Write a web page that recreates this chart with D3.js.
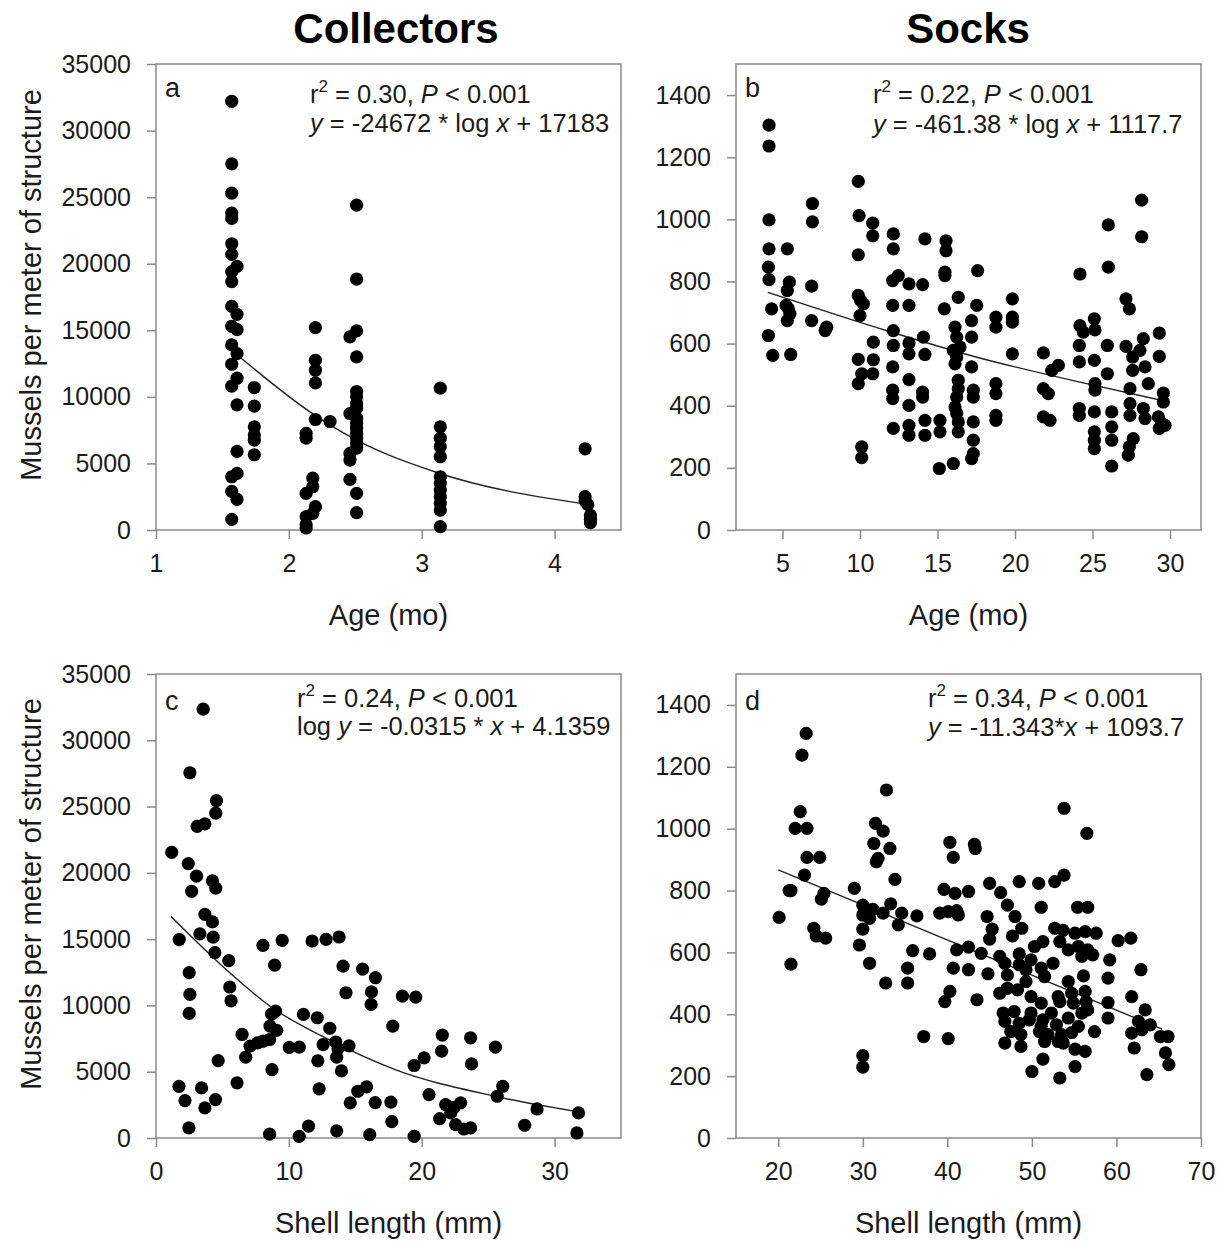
<!DOCTYPE html>
<html>
<head>
<meta charset="utf-8">
<script src="https://cdn.jsdelivr.net/npm/d3@7"></script>
<style>
  body { margin: 0; background: #fff; }
  text { font-family: "Liberation Sans", Arial, sans-serif; }
</style>
</head>
<body>
<svg id="fig" width="1224" height="1245"></svg>
<script>
////////////////////////////
//  data
////////////////////////////
// panel a: collectors, age (mo) vs mussels per meter
var collectorsAge = [
  [1.57,32200],[1.57,27500],[1.57,25300],[1.57,23800],[1.57,23400],[1.57,21500],[1.57,20700],[1.61,19800],
  [1.57,19400],[1.57,18650],[1.57,16800],[1.61,16200],[1.57,15300],[1.61,15050],[1.57,13900],[1.61,13250],
  [1.57,12450],[1.61,11400],[1.57,10800],[1.61,9400],[1.61,5900],[1.61,4250],[1.57,4000],[1.57,2900],
  [1.61,2300],[1.57,800],
  [1.74,10700],[1.74,9300],[1.74,7750],[1.74,7150],[1.74,6750],[1.74,5650],
  [2.20,15200],[2.20,12750],[2.20,12000],[2.20,11050],[2.20,8300],[2.31,8150],[2.13,7250],[2.13,6900],
  [2.18,3900],[2.18,3250],[2.13,2750],[2.20,1750],[2.18,1250],[2.13,1000],[2.13,400],[2.13,150],
  [2.51,24400],[2.51,18850],[2.51,14950],[2.46,14500],[2.51,13000],[2.51,10400],[2.51,10000],[2.51,9500],
  [2.51,9150],[2.46,8750],[2.51,8400],[2.51,8000],[2.51,7650],[2.51,7250],[2.51,6900],[2.51,6500],
  [2.51,6150],[2.46,5750],[2.46,5250],[2.46,3800],[2.51,2750],[2.51,1300],
  [3.14,10650],[3.14,7750],[3.14,6900],[3.14,6250],[3.14,5500],[3.14,4000],[3.14,3500],[3.14,3000],
  [3.14,2500],[3.14,2000],[3.14,1500],[3.14,250],
  [4.23,6100],[4.23,2500],[4.23,2200],[4.25,1900],[4.27,1100],[4.27,800],[4.27,550]
];
var fitA = [[1.63,13000],[2.17,8800],[2.5,6800],[3.12,4300],[4.2,2000]];

// panel b: socks, age (mo) vs mussels per meter
var socksAge = [
  [4.13,1303],[4.13,1236],[4.13,998],[4.13,905],[4.09,846],[4.13,806],[4.30,712],[4.09,626],[4.37,562],
  [5.31,905],[5.44,798],[5.31,771],[5.23,723],[5.38,712],[5.48,696],[5.31,674],[5.53,565],
  [6.93,1051],[6.93,992],[6.88,785],[6.88,674],
  [7.85,653],[7.75,642],
  [9.89,1122],[9.94,1012],[9.89,886],[9.89,755],[10.04,739],[10.22,728],[10.0,690],[9.89,549],[9.89,471],
  [10.11,503],[10.11,268],[10.11,233],
  [10.82,988],[10.82,947],[10.86,605],[10.86,548],[10.82,503],
  [12.15,953],[12.15,905],[12.47,819],[12.11,803],[12.11,723],[12.15,642],[12.15,594],[12.11,525],
  [12.11,450],[12.11,423],[12.15,327],
  [13.16,792],[13.16,723],[13.16,602],[13.16,567],[13.16,484],[13.16,401],[13.16,337],[13.16,305],
  [14.19,937],[14.04,790],[14.09,621],[14.19,565],[14.04,444],[14.04,428],[14.19,353],[14.19,305],
  [15.55,931],[15.55,899],[15.48,830],[15.48,819],[15.44,712],[15.16,353],[15.16,316],[15.12,198],
  [16.34,749],[16.13,653],[16.24,621],[16.02,578],[16.24,557],[16.45,589],[16.13,535],[16.34,482],
  [16.34,455],[16.24,428],[16.13,396],[16.24,375],[16.34,348],[16.34,316],[16.02,214],
  [17.59,835],[17.53,723],[17.2,674],[17.2,621],[17.2,525],[17.31,450],[17.31,428],[17.31,348],
  [17.31,289],[17.31,246],[17.2,230],
  [18.77,685],[18.77,653],[18.77,471],[18.77,439],[18.77,369],[18.77,353],
  [19.83,744],[19.83,685],[19.83,669],[19.83,567],
  [21.83,570],[21.83,455],[22.15,439],[21.83,364],[22.26,353],
  [22.37,514],[22.8,530],
  [24.19,824],[24.19,658],[24.41,637],[24.15,594],[24.15,541],[24.15,391],[24.15,369],
  [25.12,680],[25.16,644],[25.12,546],[25.16,471],[25.16,450],[25.12,380],[25.12,316],[25.12,289],[25.12,262],
  [26.02,982],[26.02,846],[25.96,594],[25.96,503],[26.24,380],[26.24,332],[26.24,289],[26.24,206],
  [27.16,744],[27.38,712],[27.16,591],[27.59,557],[27.59,514],[27.42,455],[27.42,407],[27.42,369],
  [27.63,294],[27.38,268],[27.31,241],
  [28.17,1062],[28.17,944],[28.28,616],[28.06,578],[28.39,525],[28.6,471],[28.28,391],[28.39,359],
  [29.31,634],[29.31,559],[29.57,441],[29.57,412],[29.25,364],[29.46,343],[29.68,337],[29.31,327]
];
var fitB = [[4.05,765],[11.89,639],[17.48,557],[24.63,471],[29.14,421],[29.6,416]];

// panel c: collectors, shell length (mm) vs mussels per meter
var collectorsLength = [
  [3.55,32350],[2.55,27550],[4.55,25450],[4.5,24500],[3.1,23500],[3.68,23700],[1.18,21550],[2.43,20700],
  [3.05,19750],[4.25,19400],[4.5,18850],[2.68,18600],[3.68,16870],[4.25,16300],[3.3,15400],[4.3,15150],
  [1.75,14970],[4.43,13980],[5.48,13380],[2.5,12470],[2.55,10830],[2.5,9400],[5.55,11390],[5.65,10350],
  [4.68,5840],[1.73,3900],[3.43,3780],[2.18,2820],[4.48,2900],[3.68,2270],[2.48,760],
  [8.05,14530],[9.5,14910],[8.93,13040],[6.1,4160],[6.48,7810],[6.75,6100],[7.08,6930],[7.65,7180],
  [8.05,7300],[8.7,9350],[9.0,9570],[8.58,8440],[9.08,8120],[8.55,7430],[8.73,5160],[10.03,6830],
  [10.78,6850],[11.1,9320],[12.14,9070],[13.08,8280],[12.58,7050],[13.53,7240],[13.7,6750],[13.6,6100],
  [14.53,6950],[12.18,5820],[13.96,5060],[12.28,3710],[8.55,290],[10.78,120],[11.48,900],[13.6,540],
  [11.75,14860],[12.8,14985],[13.78,15160],[14.08,12970],[14.3,10955],[15.55,12740],[16.52,12090],
  [16.22,11020],[16.19,10075],[17.82,8440],[18.55,10700],[19.55,10630],[14.62,2650],[15.19,3527],
  [15.85,3860],[16.5,2670],[17.68,2710],[17.75,1235],[19.43,5470],[20.18,6050],[16.09,250],[19.43,130],
  [20.55,3275],[21.55,7760],[21.5,6550],[23.68,7560],[23.75,5590],[25.55,6850],[26.1,3905],[25.68,3150],
  [21.8,2520],[22.43,2320],[22.93,2650],[22.18,1890],[21.35,1460],[22.55,1010],[23.18,680],[23.68,760],
  [27.75,960],[28.68,2190],[31.8,1890],[31.68,380]
];
var fitC = [[1.13,16700],[5.0,12960],[8.75,9820],[12.5,7680],[18.0,5160],[25.55,3140],[31.55,2010]];

// panel d: socks, shell length (mm) vs mussels per meter
var socksLength = [
  [23.3,1308],[22.8,1238],[22.6,1055],[22.0,1001],[23.4,1001],[31.5,1017],[32.4,992],[32.8,1125],
  [33.2,936],[31.3,952],[40.3,956],[43.2,949],[43.3,936],[53.8,1066],[56.5,985],
  [23.4,907],[24.9,907],[23.1,850],[21.3,800],[21.5,800],[20.1,713],[21.5,562],[25.4,791],[25.1,772],
  [24.2,678],[24.5,653],[25.6,646],[31.8,904],[31.6,893],[33.8,836],[29.0,807],[30.0,753],[30.6,737],
  [31.2,739],[30.0,721],[30.8,710],[30.0,675],[29.6,624],[30.8,565],[32.4,727],[33.3,757],[34.6,727],
  [34.2,689],[36.4,718],[35.9,606],[37.9,595],[35.3,549],[35.3,501],[32.7,501],[30.0,266],[30.0,229],
  [37.2,328],[40.1,321],[39.6,804],[40.9,791],[42.5,797],[40.7,907],[39.1,727],[40.1,732],[41.1,735],
  [41.3,721],[41.1,608],[42.5,617],[40.7,549],[42.5,544],[40.3,474],[39.7,441],[43.5,447],
  [45.0,823],[48.5,829],[50.8,823],[52.7,829],[53.8,850],[46.3,793],[47.1,753],[51.1,746],[55.4,746],
  [56.6,746],[48.0,716],[44.7,716],[48.8,678],[45.3,675],[47.7,653],[52.7,678],[53.7,671],[55.1,662],
  [56.3,667],[57.6,662],[45.0,643],[50.3,619],[51.3,635],[53.3,635],[54.3,608],[55.5,619],[56.6,608],
  [60.2,638],[61.7,646],[44.0,597],[46.2,587],[48.5,595],[49.9,576],[52.5,565],[55.9,587],[57.2,592],
  [59.2,576],[62.9,544],[44.8,531],[46.8,565],[47.1,527],[48.5,560],[49.3,544],[51.1,549],[51.5,522],
  [49.3,506],[54.3,506],[56.1,524],[59.0,517],[61.8,457],[53.1,457],[54.7,468],[56.3,474],[46.2,468],
  [47.1,484],[48.3,479],[49.9,457],[51.1,436],[53.3,441],[54.9,436],[56.4,441],[59.0,438],[46.6,404],
  [47.9,409],[49.9,404],[51.3,382],[52.3,404],[54.3,388],[55.9,404],[56.6,414],[59.0,388],[63.4,414],
  [46.8,377],[48.5,371],[49.7,382],[51.1,361],[52.9,366],[55.5,361],[57.4,344],[62.6,377],[64.0,366],
  [61.8,339],[63.0,350],[65.2,328],[66.1,328],[47.5,344],[48.7,334],[50.9,344],[51.9,334],[53.5,334],
  [54.7,341],[46.8,307],[48.7,296],[51.5,312],[53.1,312],[53.7,307],[55.1,287],[56.3,280],[62.1,291],
  [65.8,275],[51.3,255],[55.1,231],[66.2,237],[50.0,215],[53.3,194],[63.6,205]
];
var fitD = [[20,867],[65.4,352]];

// ticks
var ageTicksA = [1, 2, 3, 4];
var ageTicksB = [5, 10, 15, 20, 25, 30];
var lengthTicksC = [0, 10, 20, 30];
var lengthTicksD = [20, 30, 40, 50, 60, 70];
var collectorTicksY = [0, 5000, 10000, 15000, 20000, 25000, 30000, 35000];
var sockTicksY = [0, 200, 400, 600, 800, 1000, 1200, 1400];

var columnTitles = ['Collectors', 'Socks'];

// annotation lines: [text, style] pieces; 'i' italic, 's' superscript
var notes = {
  a: [[['r',''],['2','s'],[' = 0.30, ',''],['P','i'],[' < 0.001','']],
      [['y','i'],[' = -24672 * log ',''],['x','i'],[' + 17183','']]],
  b: [[['r',''],['2','s'],[' = 0.22, ',''],['P','i'],[' < 0.001','']],
      [['y','i'],[' = -461.38 * log ',''],['x','i'],[' + 1117.7','']]],
  c: [[['r',''],['2','s'],[' = 0.24, ',''],['P','i'],[' < 0.001','']],
      [['log ',''],['y','i'],[' = -0.0315 * ',''],['x','i'],[' + 4.1359','']]],
  d: [[['r',''],['2','s'],[' = 0.34, ',''],['P','i'],[' < 0.001','']],
      [['y','i'],[' = -11.343*',''],['x','i'],[' + 1093.7','']]]
};

////////////////////////////
//  layout
////////////////////////////
var svg = d3.select('#fig');
var pw = 465;
var frameColor = '#8a8a8a';
var textColor = '#1b1b1b';

var panels = [
  {id:'a', data:collectorsAge, fit:fitA, xd:[1,4.5], yd:[0,35000], xt:ageTicksA, yt:collectorTicksY,
   left:156, top:64, bottom:530, xlabel:'Age (mo)', ylabel:true, noteX:310, noteY:[103,132], letterY:97},
  {id:'b', data:socksAge, fit:fitB, xd:[2,32], yd:[0,1500], xt:ageTicksB, yt:sockTicksY,
   left:736, top:64, bottom:530, xlabel:'Age (mo)', ylabel:false, noteX:873, noteY:[103,133], letterY:97},
  {id:'c', data:collectorsLength, fit:fitC, xd:[0,35], yd:[0,35000], xt:lengthTicksC, yt:collectorTicksY,
   left:156, top:674, bottom:1138, xlabel:'Shell length (mm)', ylabel:true, noteX:297, noteY:[707,735], letterY:710},
  {id:'d', data:socksLength, fit:fitD, xd:[15,70], yd:[0,1500], xt:lengthTicksD, yt:sockTicksY,
   left:736, top:674, bottom:1138, xlabel:'Shell length (mm)', ylabel:false, noteX:928, noteY:[707,736], letterY:710}
];

// column titles
svg.selectAll('.title')
  .data(columnTitles)
  .enter()
  .append('text')
    .attr('class', 'title')
    .attr('x', (d, i) => i === 0 ? 396 : 968)
    .attr('y', 43)
    .attr('text-anchor', 'middle')
    .attr('font-size', 42)
    .attr('font-weight', 'bold')
    .attr('fill', '#000')
    .text(d => d);

panels.forEach(drawPanel);

function drawPanel(p) {
  var x = d3.scaleLinear().domain(p.xd).range([p.left, p.left + pw]);
  var y = d3.scaleLinear().domain(p.yd).range([p.bottom, p.top]);
  var g = svg.append('g').attr('class', 'panel-' + p.id);

  // frame
  g.append('rect')
    .attr('x', p.left).attr('y', p.top)
    .attr('width', pw).attr('height', p.bottom - p.top)
    .attr('fill', 'none')
    .attr('stroke', frameColor)
    .attr('stroke-width', 1.5);

  var xAxis = g.append('g')
    .attr('transform', `translate(0,${p.bottom})`)
    .call(d3.axisBottom(x).tickValues(p.xt).tickSize(9).tickPadding(15).tickFormat(d3.format('d')));
  var yAxis = g.append('g')
    .attr('transform', `translate(${p.left},0)`)
    .call(d3.axisLeft(y).tickValues(p.yt).tickSize(9).tickPadding(16).tickFormat(d3.format('d')));

  [xAxis, yAxis].forEach(ax => {
    ax.select('.domain').remove();
    ax.selectAll('line').attr('stroke', frameColor).attr('stroke-width', 1.5);
    ax.selectAll('text')
      .attr('font-family', '"Liberation Sans", Arial, sans-serif')
      .attr('font-size', 25)
      .attr('fill', textColor);
  });

  // fitted curve
  g.append('path')
    .datum(p.fit)
    .attr('fill', 'none')
    .attr('stroke', '#222')
    .attr('stroke-width', 1.4)
    .attr('d', d3.line().x(d => x(d[0])).y(d => y(d[1])).curve(d3.curveMonotoneX));

  // points
  g.selectAll('.dot')
    .data(p.data)
    .enter()
    .append('circle')
      .attr('class', 'dot')
      .attr('cx', d => x(d[0]))
      .attr('cy', d => y(d[1]))
      .attr('r', 6.6)
      .attr('fill', '#000');

  // panel letter
  g.append('text')
    .attr('x', p.left + 9)
    .attr('y', p.letterY)
    .attr('font-size', 27)
    .attr('fill', textColor)
    .text(p.id);

  // statistics
  notes[p.id].forEach((line, li) => {
    var t = g.append('text')
      .attr('x', p.noteX)
      .attr('y', p.noteY[li])
      .attr('font-size', 25.5)
      .attr('fill', textColor);
    var raised = false;
    line.forEach(seg => {
      var ts = t.append('tspan').text(seg[0]);
      if (seg[1] === 'i') ts.attr('font-style', 'italic');
      if (seg[1] === 's') {
        ts.attr('font-size', 17).attr('dy', -11);
        raised = true;
      } else if (raised) {
        ts.attr('dy', 11);
        raised = false;
      }
    });
  });

  // axis titles
  g.append('text')
    .attr('x', p.left + pw / 2)
    .attr('y', p.bottom + 95)
    .attr('text-anchor', 'middle')
    .attr('font-size', 29)
    .attr('fill', textColor)
    .text(p.xlabel);

  if (p.ylabel) {
    var cy = (p.top + p.bottom) / 2 - 12;
    g.append('text')
      .attr('transform', `translate(41,${cy}) rotate(-90)`)
      .attr('text-anchor', 'middle')
      .attr('font-size', 29)
      .attr('fill', textColor)
      .text('Mussels per meter of structure');
  }
}
</script>
</body>
</html>
